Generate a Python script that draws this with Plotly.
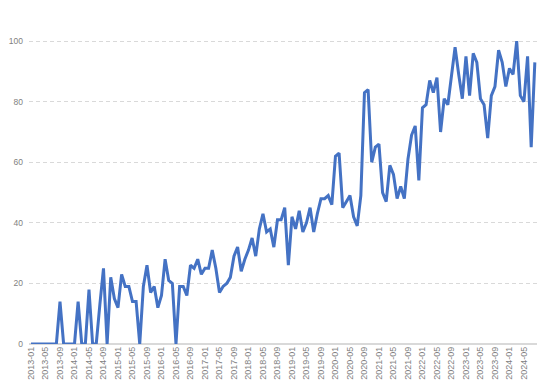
import plotly.graph_objects as go

start_year = 2013
months = [f"{start_year + i // 12}-{i % 12 + 1:02d}" for i in range(140)]

values = [
    0, 0, 0, 0, 0, 0, 0, 0, 14, 0, 0, 0,
    0, 14, 0, 0, 18, 0, 0, 13, 25, 0, 22, 15,
    12, 23, 19, 19, 14, 14, 0, 19, 26, 17, 19, 12,
    16, 28, 21, 20, 0, 19, 19, 16, 26, 25, 28, 23,
    25, 25, 31, 25, 17, 19, 20, 22, 29, 32, 24, 28,
    31, 35, 29, 38, 43, 37, 38, 32, 41, 41, 45, 26,
    42, 38, 44, 37, 40, 45, 37, 43, 48, 48, 49, 46,
    62, 63, 45, 47, 49, 42, 39, 49, 83, 84, 60, 65,
    66, 50, 47, 59, 56, 48, 52, 48, 61, 69, 72, 54,
    78, 79, 87, 83, 88, 70, 81, 79, 88, 98, 89, 81,
    95, 82, 96, 93, 81, 79, 68, 82, 85, 97, 93, 85,
    91, 89, 100, 82, 80, 95, 65, 93,
]

x_ticks = months[::4]
y_ticks = [0, 20, 40, 60, 80, 100]

fig = go.Figure()
fig.add_trace(go.Scatter(
    x=months, y=values, mode="lines",
    line=dict(color="#4472C4", width=3),
    hoverinfo="x+y",
))

# page body has an 8px default margin; size/margins compensate for it
fig.update_layout(
    width=542, height=380,
    margin=dict(l=21, r=13, t=18, b=44, autoexpand=False),
    paper_bgcolor="white", plot_bgcolor="white",
    showlegend=False,
    font=dict(family="Liberation Sans, Arial, sans-serif", size=9, color="#7f7f7f"),
)
fig.update_xaxes(
    type="category",
    range=[-0.55, 139.6],
    tickmode="array", tickvals=x_ticks, ticktext=x_ticks,
    tickangle=-90,
    tickfont=dict(size=9, color="#7f7f7f"),
    showgrid=False,
    showline=False,
    ticks="",
    automargin=False,
)
fig.update_yaxes(
    range=[0, 105],
    tickmode="array", tickvals=y_ticks,
    tickfont=dict(size=8.5, color="#7f7f7f"),
    showgrid=True, gridcolor="#d9d9d9", gridwidth=1, griddash="4px,3px",
    zeroline=True, zerolinecolor="#d9d9d9", zerolinewidth=2,
    showline=False,
    ticks="",
    ticklabelstandoff=5,
    automargin=False,
)

fig.write_html("out.html")
